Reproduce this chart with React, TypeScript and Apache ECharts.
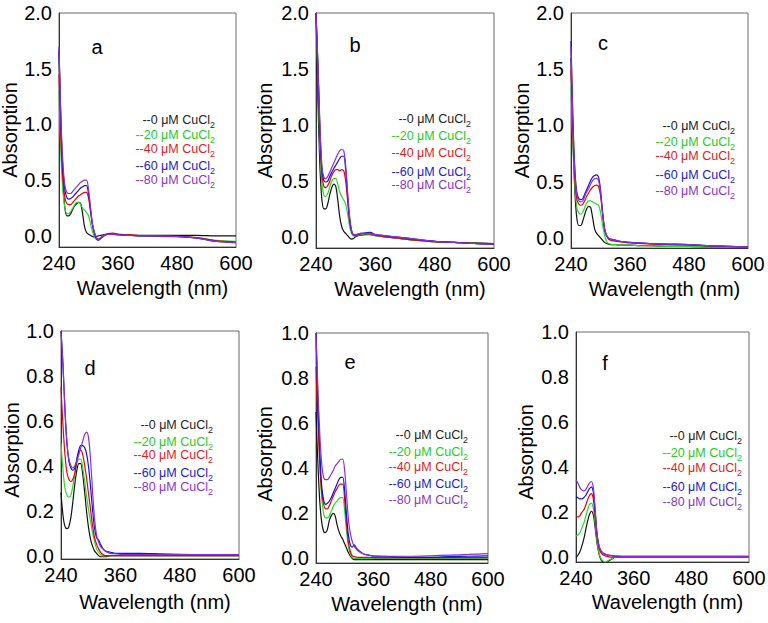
import React, { useEffect, useRef } from 'react';
import * as echarts from 'echarts';

// ---------- data ----------
const WAVELENGTHS = [240, 244, 248, 252, 256, 260, 264, 268, 272, 276, 280, 284, 288, 292, 296, 300, 304, 308, 312, 316, 320, 325, 330, 340, 350, 360, 380, 400, 440, 480, 520, 560, 600];
const X_TICKS = [240, 360, 480, 600];
const Y_TICKS_TOP = [0, 0.5, 1.0, 1.5, 2.0];
const Y_TICKS_BOTTOM = [0, 0.2, 0.4, 0.6, 0.8, 1.0];
const CONCENTRATIONS = ['0', '20', '40', '60', '80'];
const PANEL_LABELS = ['a', 'b', 'c', 'd', 'e', 'f'];

// panel a
const a0 = [1.65, 0.95, 0.48, 0.25, 0.18, 0.18, 0.2, 0.24, 0.27, 0.29, 0.3, 0.29, 0.2, 0.08, 0.03, 0.015, 0.005, -0.005, -0.01, -0.005, 0.0, 0.005, 0.01, 0.015, 0.012, 0.01, 0.008, 0.005, 0.005, 0.005, 0.005, 0.0, 0.0];
const a20 = [1.3, 0.72, 0.4, 0.25, 0.2, 0.2, 0.22, 0.25, 0.28, 0.3, 0.3, 0.28, 0.25, 0.23, 0.21, 0.18, 0.11, 0.04, -0.01, -0.03, -0.03, -0.015, 0.0, 0.015, 0.015, 0.01, 0.005, 0.0, -0.005, -0.01, -0.015, -0.04, -0.05];
const a40 = [1.45, 0.85, 0.5, 0.34, 0.29, 0.28, 0.28, 0.3, 0.32, 0.34, 0.36, 0.37, 0.38, 0.39, 0.39, 0.34, 0.22, 0.1, 0.03, -0.015, -0.03, -0.015, 0.0, 0.02, 0.025, 0.015, 0.01, 0.005, 0.0, -0.005, -0.015, -0.045, -0.055];
const a60 = [1.68, 1.0, 0.6, 0.41, 0.345, 0.33, 0.335, 0.35, 0.37, 0.39, 0.41, 0.43, 0.44, 0.45, 0.45, 0.38, 0.24, 0.1, 0.02, -0.025, -0.04, -0.025, -0.005, 0.015, 0.015, 0.01, 0.005, 0.0, 0.0, -0.005, -0.02, -0.05, -0.06];
const a80 = [1.7, 1.05, 0.65, 0.45, 0.39, 0.38, 0.38, 0.4, 0.42, 0.44, 0.46, 0.48, 0.49, 0.5, 0.5, 0.42, 0.26, 0.11, 0.03, -0.015, -0.035, -0.02, 0.0, 0.015, 0.015, 0.01, 0.005, 0.0, 0.0, -0.005, -0.02, -0.05, -0.06];

// panel b
const b0 = [2.0, 1.2, 0.62, 0.33, 0.25, 0.25, 0.3, 0.38, 0.44, 0.47, 0.45, 0.33, 0.18, 0.09, 0.05, 0.03, 0.01, -0.01, -0.02, -0.015, 0.0, 0.01, 0.015, 0.02, 0.02, 0.01, 0.0, -0.01, -0.03, -0.04, -0.05, -0.055, -0.06];
const b20 = [2.0, 1.4, 0.8, 0.48, 0.37, 0.36, 0.39, 0.45, 0.5, 0.52, 0.52, 0.47, 0.4, 0.36, 0.33, 0.29, 0.2, 0.09, 0.03, 0.005, 0.01, 0.015, 0.02, 0.025, 0.02, 0.01, 0.0, -0.01, -0.03, -0.045, -0.05, -0.06, -0.065];
const b40 = [2.0, 1.5, 0.9, 0.55, 0.45, 0.44, 0.46, 0.5, 0.55, 0.58, 0.6, 0.6, 0.59, 0.6, 0.59, 0.5, 0.32, 0.14, 0.05, 0.015, 0.01, 0.02, 0.025, 0.03, 0.025, 0.015, 0.0, -0.01, -0.03, -0.045, -0.05, -0.06, -0.065];
const b60 = [2.0, 1.5, 0.95, 0.6, 0.5, 0.49, 0.5, 0.54, 0.58, 0.61, 0.64, 0.67, 0.7, 0.72, 0.72, 0.6, 0.36, 0.16, 0.05, 0.02, 0.02, 0.025, 0.03, 0.035, 0.04, 0.02, 0.01, 0.0, -0.02, -0.04, -0.05, -0.06, -0.065];
const b80 = [2.0, 1.55, 1.0, 0.63, 0.53, 0.52, 0.54, 0.58, 0.62, 0.66, 0.7, 0.74, 0.77, 0.78, 0.77, 0.64, 0.4, 0.18, 0.06, 0.02, 0.02, 0.025, 0.03, 0.03, 0.03, 0.02, 0.01, 0.0, -0.02, -0.04, -0.05, -0.06, -0.065];

// panel c
const c0 = [1.6, 0.9, 0.4, 0.17, 0.11, 0.11, 0.15, 0.21, 0.26, 0.28, 0.27, 0.18, 0.08, 0.04, 0.02, 0.0, -0.02, -0.04, -0.05, -0.055, -0.06, -0.06, -0.06, -0.065, -0.065, -0.065, -0.07, -0.07, -0.075, -0.075, -0.08, -0.08, -0.085];
const c20 = [1.35, 0.8, 0.45, 0.27, 0.22, 0.21, 0.23, 0.27, 0.31, 0.33, 0.33, 0.32, 0.31, 0.3, 0.29, 0.23, 0.12, 0.03, -0.03, -0.05, -0.055, -0.06, -0.06, -0.065, -0.065, -0.065, -0.07, -0.07, -0.075, -0.075, -0.08, -0.08, -0.085];
const c40 = [1.5, 0.9, 0.5, 0.34, 0.3, 0.29, 0.3, 0.33, 0.37, 0.4, 0.43, 0.45, 0.465, 0.47, 0.46, 0.38, 0.22, 0.08, 0.02, -0.01, -0.02, -0.025, -0.03, -0.035, -0.04, -0.045, -0.05, -0.055, -0.06, -0.065, -0.07, -0.075, -0.08];
const c60 = [1.75, 1.05, 0.6, 0.4, 0.35, 0.34, 0.35, 0.39, 0.43, 0.47, 0.51, 0.54, 0.555, 0.56, 0.54, 0.43, 0.24, 0.09, 0.025, 0.0, -0.01, -0.015, -0.02, -0.03, -0.035, -0.04, -0.045, -0.05, -0.055, -0.06, -0.07, -0.075, -0.08];
const c80 = [1.7, 1.0, 0.57, 0.38, 0.33, 0.32, 0.33, 0.37, 0.41, 0.44, 0.48, 0.51, 0.525, 0.53, 0.51, 0.41, 0.23, 0.09, 0.025, 0.0, -0.01, -0.015, -0.02, -0.03, -0.035, -0.04, -0.045, -0.05, -0.055, -0.06, -0.07, -0.075, -0.08];

// panel d
const d0 = [0.28, 0.18, 0.13, 0.12, 0.13, 0.17, 0.24, 0.32, 0.38, 0.41, 0.41, 0.36, 0.28, 0.19, 0.12, 0.07, 0.04, 0.02, 0.01, 0.0, -0.005, -0.005, -0.005, 0.0, 0.0, 0.0, 0.0, 0.0, 0.0, 0.0, 0.0, 0.0, 0.0];
const d20 = [0.5, 0.38, 0.3, 0.27, 0.26, 0.27, 0.31, 0.36, 0.41, 0.43, 0.43, 0.39, 0.33, 0.26, 0.2, 0.15, 0.1, 0.06, 0.03, 0.015, 0.005, 0.0, 0.0, 0.0, 0.0, 0.0, 0.0, 0.0, 0.0, 0.0, 0.0, 0.0, 0.0];
const d40 = [0.75, 0.58, 0.45, 0.37, 0.34, 0.33, 0.34, 0.37, 0.42, 0.46, 0.47, 0.45, 0.4, 0.34, 0.27, 0.2, 0.13, 0.08, 0.05, 0.03, 0.015, 0.005, 0.0, 0.0, 0.0, 0.0, 0.0, 0.0, 0.0, 0.0, 0.0, 0.0, 0.0];
const d60 = [1.0, 0.85, 0.65, 0.5, 0.42, 0.39, 0.38, 0.39, 0.43, 0.47, 0.49, 0.49, 0.48, 0.45, 0.39, 0.3, 0.2, 0.12, 0.08, 0.07, 0.05, 0.03, 0.02, 0.015, 0.01, 0.01, 0.01, 0.01, 0.008, 0.006, 0.005, 0.005, 0.005];
const d80 = [1.0, 0.85, 0.65, 0.5, 0.43, 0.4, 0.39, 0.4, 0.42, 0.45, 0.48, 0.51, 0.54, 0.55, 0.52, 0.42, 0.28, 0.16, 0.09, 0.06, 0.04, 0.03, 0.02, 0.01, 0.008, 0.006, 0.005, 0.005, 0.005, 0.005, 0.005, 0.005, 0.005];

// panel e
const e0 = [0.65, 0.42, 0.25, 0.16, 0.12, 0.115, 0.13, 0.17, 0.19, 0.2, 0.19, 0.15, 0.12, 0.1, 0.085, 0.065, 0.045, 0.025, 0.01, 0.0, -0.005, -0.005, -0.005, -0.005, -0.005, -0.005, -0.005, -0.005, -0.005, -0.005, -0.005, -0.005, -0.005];
const e20 = [0.95, 0.65, 0.42, 0.27, 0.2, 0.18, 0.18, 0.19, 0.21, 0.23, 0.245, 0.255, 0.265, 0.27, 0.27, 0.21, 0.12, 0.05, 0.02, 0.005, 0.0, 0.0, 0.0, 0.0, 0.0, 0.0, 0.0, 0.0, 0.0, 0.0, 0.0, 0.0, 0.0];
const e40 = [0.85, 0.62, 0.42, 0.29, 0.24, 0.22, 0.22, 0.235, 0.255, 0.275, 0.295, 0.31, 0.325, 0.33, 0.33, 0.26, 0.15, 0.07, 0.03, 0.012, 0.008, 0.006, 0.005, 0.005, 0.005, 0.004, 0.004, 0.004, 0.004, 0.004, 0.004, 0.004, 0.004];
const e60 = [1.0, 0.7, 0.47, 0.32, 0.26, 0.24, 0.245, 0.255, 0.27, 0.29, 0.31, 0.33, 0.35, 0.36, 0.36, 0.3, 0.19, 0.1, 0.06, 0.05, 0.06, 0.045, 0.035, 0.02, 0.015, 0.01, 0.01, 0.008, 0.005, 0.005, 0.008, 0.01, 0.012];
const e80 = [1.0, 0.75, 0.55, 0.42, 0.36, 0.35, 0.35, 0.36, 0.375, 0.39, 0.41, 0.42, 0.43, 0.44, 0.44, 0.39, 0.28, 0.17, 0.11, 0.075, 0.055, 0.04, 0.03, 0.02, 0.015, 0.012, 0.01, 0.01, 0.01, 0.012, 0.015, 0.018, 0.022];

// panel f
const f0 = [0.0, 0.01, 0.025, 0.05, 0.08, 0.12, 0.16, 0.19, 0.205, 0.19, 0.13, 0.06, 0.015, -0.01, -0.02, -0.025, -0.02, -0.015, -0.01, -0.005, 0.0, 0.0, 0.0, 0.0, 0.0, 0.0, 0.0, 0.0, 0.0, 0.0, 0.0, 0.0, 0.0];
const f20 = [0.095, 0.1, 0.11, 0.13, 0.15, 0.18, 0.21, 0.235, 0.24, 0.22, 0.15, 0.07, 0.02, -0.005, -0.015, -0.02, -0.018, -0.012, -0.008, -0.004, 0.0, 0.0, 0.0, 0.0, 0.0, 0.0, 0.0, 0.0, 0.0, 0.0, 0.0, 0.0, 0.0];
const f40 = [0.18, 0.18, 0.185, 0.2, 0.21, 0.23, 0.255, 0.275, 0.283, 0.26, 0.18, 0.09, 0.04, 0.02, 0.012, 0.008, 0.005, 0.003, 0.002, 0.002, 0.002, 0.002, 0.002, 0.002, 0.002, 0.002, 0.002, 0.002, 0.002, 0.002, 0.002, 0.002, 0.002];
const f60 = [0.27, 0.265, 0.26, 0.26, 0.265, 0.275, 0.29, 0.305, 0.312, 0.29, 0.2, 0.1, 0.05, 0.03, 0.02, 0.015, 0.012, 0.01, 0.01, 0.008, 0.007, 0.006, 0.006, 0.005, 0.005, 0.005, 0.005, 0.005, 0.005, 0.005, 0.005, 0.005, 0.005];
const f80 = [0.345, 0.33, 0.31, 0.3, 0.295, 0.3, 0.315, 0.33, 0.337, 0.31, 0.21, 0.1, 0.05, 0.03, 0.02, 0.015, 0.012, 0.01, 0.008, 0.007, 0.006, 0.006, 0.005, 0.005, 0.005, 0.005, 0.005, 0.005, 0.005, 0.005, 0.005, 0.005, 0.005];

const PANELS = [
  [a0, a20, a40, a60, a80],
  [b0, b20, b40, b60, b80],
  [c0, c20, c40, c60, c80],
  [d0, d20, d40, d60, d80],
  [e0, e20, e40, e60, e80],
  [f0, f20, f40, f60, f80],
];

// ---------- styling / layout ----------
const FONT = '"Liberation Sans", Arial, Helvetica, sans-serif';
const LINE_COLORS = ['#111111', '#22dd22', '#ee0000', '#1010dd', '#8a2be2'];
const TEXT_COLORS = ['#222222', '#22cc22', '#e31a1c', '#1a1ad0', '#8833cc'];

const GRIDS = [
  { left: 59, top: 13, width: 177, height: 234 },
  { left: 316, top: 13, width: 178, height: 235 },
  { left: 571, top: 13, width: 177, height: 235 },
  { left: 61, top: 331, width: 178, height: 228 },
  { left: 316, top: 333, width: 172, height: 230 },
  { left: 576, top: 332, width: 173, height: 230 },
];
const Y_RANGES = [
  [-0.1, 2.0], [-0.1, 2.0], [-0.09, 2.0],
  [-0.015, 1.0], [-0.02, 1.0], [-0.02, 1.0],
];
const Y_NAME_GAP = [36, 41, 38, 37, 41, 40];
const Y_NAME_SHIFT = [0, 0, 0, 10, 12, 10];
const X_NAME_GAP = [31, 31, 31, 33, 31, 30];
const LEGEND_RIGHT = [215, 471, 735, 213, 468, 742];
const LEGEND_ROWS = [
  [120, 135, 149, 166, 180],
  [119, 136, 153, 172, 185],
  [126, 142, 156, 175, 191],
  [425, 442, 455, 473, 487],
  [435, 452, 467, 484, 500],
  [436, 453, 468, 487, 502],
];
const LETTER_POS = [[97, 47], [355, 45], [603, 43], [90, 368], [350, 362], [605, 363]];

export default function App() {
  const ref = useRef<HTMLDivElement>(null);

  useEffect(() => {
    if (!ref.current) return;
    const chart = echarts.init(ref.current, null, { renderer: 'svg' });

    const grid = GRIDS.map((g) => ({
      ...g,
      show: true,
      borderColor: '#6a6a6a',
      borderWidth: 1,
      containLabel: false,
      outerBoundsMode: 'none',
    }));

    const xAxis = GRIDS.map((_, i) => ({
      type: 'value',
      gridIndex: i,
      min: X_TICKS[0],
      max: X_TICKS[X_TICKS.length - 1],
      interval: X_TICKS[1] - X_TICKS[0],
      axisLine: { show: true, onZero: false, lineStyle: { color: '#333', width: 1 } },
      axisTick: { show: false },
      splitLine: { show: false },
      axisLabel: { color: '#000', fontSize: 20, fontFamily: FONT, margin: 6 },
      name: 'Wavelength (nm)',
      nameLocation: 'middle',
      nameGap: X_NAME_GAP[i],
      nameTextStyle: { color: '#000', fontSize: 20, fontFamily: FONT, padding: [0, 0, 0, 10] },
    }));

    const yAxis = GRIDS.map((_, i) => {
      const ticks = i < 3 ? Y_TICKS_TOP : Y_TICKS_BOTTOM;
      return {
        type: 'value',
        gridIndex: i,
        min: Y_RANGES[i][0],
        max: Y_RANGES[i][1],
        axisLine: { show: true, onZero: false, lineStyle: { color: '#333', width: 1 } },
        axisTick: { show: false },
        splitLine: { show: false },
        axisLabel: {
          color: '#000',
          fontSize: 20,
          fontFamily: FONT,
          margin: 7,
          customValues: ticks,
          formatter: (v: number) => v.toFixed(1),
        },
        name: 'Absorption',
        nameLocation: 'middle',
        nameGap: Y_NAME_GAP[i],
        nameTextStyle: {
          color: '#000',
          fontSize: 20,
          fontFamily: FONT,
          padding: [0, Y_NAME_SHIFT[i], 0, 0],
        },
      };
    });

    const series: any[] = [];
    PANELS.forEach((curves, p) => {
      curves.forEach((vals, k) => {
        series.push({
          type: 'line',
          name: `${PANEL_LABELS[p]}-${CONCENTRATIONS[k]}`,
          xAxisIndex: p,
          yAxisIndex: p,
          data: WAVELENGTHS.map((w, j) => [w, vals[j]]),
          symbol: 'none',
          showSymbol: false,
          smooth: 0.3,
          silent: true,
          z: 2 + k,
          lineStyle: { color: LINE_COLORS[k], width: 1.2 },
        });
      });
    });

    const graphic: any[] = [];
    PANELS.forEach((_, p) => {
      graphic.push({
        type: 'text',
        x: LETTER_POS[p][0],
        y: LETTER_POS[p][1],
        silent: true,
        style: {
          text: PANEL_LABELS[p],
          fill: '#000',
          fontSize: 20,
          fontFamily: FONT,
          align: 'center',
          verticalAlign: 'middle',
        },
      });
      CONCENTRATIONS.forEach((c, k) => {
        graphic.push({
          type: 'text',
          x: LEGEND_RIGHT[p],
          y: LEGEND_ROWS[p][k],
          silent: true,
          style: {
            text: `{m|--${c} \u03BCM CuCl}{s|2}`,
            align: 'right',
            verticalAlign: 'middle',
            fill: TEXT_COLORS[k],
            rich: {
              m: { fontSize: 12.5, lineHeight: 18, fontFamily: FONT, fill: TEXT_COLORS[k] },
              s: { fontSize: 9, lineHeight: 9, fontFamily: FONT, fill: TEXT_COLORS[k], verticalAlign: 'bottom' },
            },
          },
        });
      });
    });

    chart.setOption({
      animation: false,
      backgroundColor: '#ffffff',
      grid,
      xAxis,
      yAxis,
      series,
      graphic,
    });

    return () => chart.dispose();
  }, []);

  return (
    <div
      ref={ref}
      style={{ position: 'absolute', left: 0, top: 0, width: 768, height: 623 }}
    />
  );
}
